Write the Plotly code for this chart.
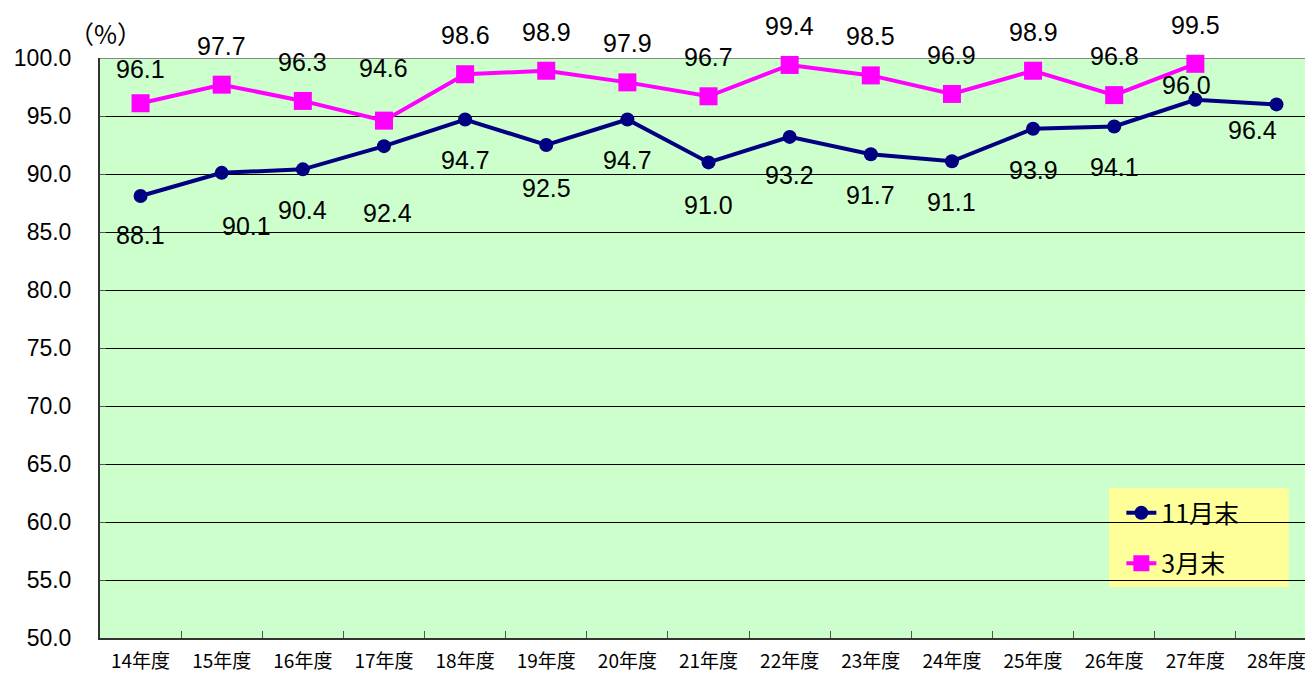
import plotly.graph_objects as go

categories = ["14年度", "15年度", "16年度", "17年度", "18年度", "19年度", "20年度",
              "21年度", "22年度", "23年度", "24年度", "25年度", "26年度", "27年度", "28年度"]
nov_values = [88.1, 90.1, 90.4, 92.4, 94.7, 92.5, 94.7, 91.0, 93.2, 91.7, 91.1, 93.9, 94.1, 96.4, 96.0]
nov_labels = ["88.1", "90.1", "90.4", "92.4", "94.7", "92.5", "94.7", "91.0", "93.2", "91.7",
              "91.1", "93.9", "94.1", "96.0", "96.4"]
mar_values = [96.1, 97.7, 96.3, 94.6, 98.6, 98.9, 97.9, 96.7, 99.4, 98.5, 96.9, 98.9, 96.8, 99.5, None]
y_ticks = [50, 55, 60, 65, 70, 75, 80, 85, 90, 95, 100]

NAVY = "#000080"
MAGENTA = "#FF00FF"

# label placement styling (pixel offsets of label centre from the point)
MAR_DEFAULT_SHIFT = (0, 39)
MAR_SHIFT_OVERRIDE = {"14年度": (0, 34), "17年度": (0, 53)}
NOV_DEFAULT_SHIFT = (0, -41)
NOV_SHIFT_OVERRIDE = {"14年度": (0, -39), "15年度": (25, -53), "17年度": (4, -67),
                      "19年度": (0, -43), "21年度": (0, -43), "22年度": (0, -38),
                      "27年度": (-9, 15), "28年度": (-24, -26)}

fig = go.Figure()
fig.add_trace(go.Scatter(
    x=categories, y=nov_values, name="11月末", mode="lines+markers",
    legendgroup="a",
    line=dict(color=NAVY, width=4),
    marker=dict(symbol="circle", size=14, color=NAVY),
    cliponaxis=False,
))
fig.add_trace(go.Scatter(
    x=categories, y=mar_values, name="3月末", mode="lines+markers",
    legendgroup="b",
    line=dict(color=MAGENTA, width=4),
    marker=dict(symbol="square", size=18, color=MAGENTA),
    cliponaxis=False,
))

label_font = dict(family="Liberation Sans, Arial, sans-serif", size=25, color="black")
annotations = []
for c, v in zip(categories, mar_values):
    if v is None:
        continue
    dx, dy = MAR_SHIFT_OVERRIDE.get(c, MAR_DEFAULT_SHIFT)
    annotations.append(dict(x=c, y=v, text=f"{v:.1f}", showarrow=False,
                            xshift=dx, yshift=dy, font=label_font))
for c, v, t in zip(categories, nov_values, nov_labels):
    dx, dy = NOV_SHIFT_OVERRIDE.get(c, NOV_DEFAULT_SHIFT)
    annotations.append(dict(x=c, y=v, text=t, showarrow=False,
                            xshift=dx, yshift=dy, font=label_font))
annotations.append(dict(x=0, y=1, xref="paper", yref="paper", text="（%）",
                        showarrow=False, xanchor="center", yanchor="middle",
                        xshift=5, yshift=25,
                        font=dict(family="Noto Sans CJK JP", size=25, color="black")))

fig.update_layout(
    width=1305, height=666,
    margin=dict(l=92, r=0, t=50, b=36),
    paper_bgcolor="white",
    plot_bgcolor="#CCFFCC",
    showlegend=True,
    legend=dict(x=0.842, y=0.255, xanchor="left", yanchor="top",
                bgcolor="rgba(0,0,0,0)", borderwidth=0,
                font=dict(family="Noto Sans CJK JP", size=25, color="black"),
                traceorder="grouped", tracegroupgap=15),
    annotations=annotations,
    xaxis=dict(
        type="category", range=[-0.5, 14.45],
        tickfont=dict(family="Noto Sans CJK JP", size=19, color="black"),
        showgrid=False, showline=True, linecolor="#333333", linewidth=2,
        ticks="inside", tickson="boundaries", ticklen=7, tickcolor="#555555",
        ticklabelstandoff=5, automargin=False,
    ),
    yaxis=dict(
        range=[50, 100], tickvals=y_ticks,
        ticktext=[f"{t:.1f}" for t in y_ticks],
        tickfont=dict(family="Liberation Sans, Arial, sans-serif", size=23, color="black"),
        showgrid=True, gridcolor="black", gridwidth=1,
        showline=True, linecolor="#333333", linewidth=2,
        ticks="inside", ticklen=6, tickcolor="#555555",
        ticklabelstandoff=22, automargin=False,
        zeroline=False,
    ),
)
# legend background box
fig.add_shape(type="rect", xref="paper", yref="paper",
              x0=0.8318, x1=0.980, y0=0.088, y1=0.2586,
              fillcolor="#FFFF99", line=dict(width=0), layer="between")
fig.add_shape(type="line", xref="paper", yref="y", x0=0, x1=1, y0=100, y1=100,
              line=dict(color="#888888", width=2), layer="between")

fig.write_html("out.html")
